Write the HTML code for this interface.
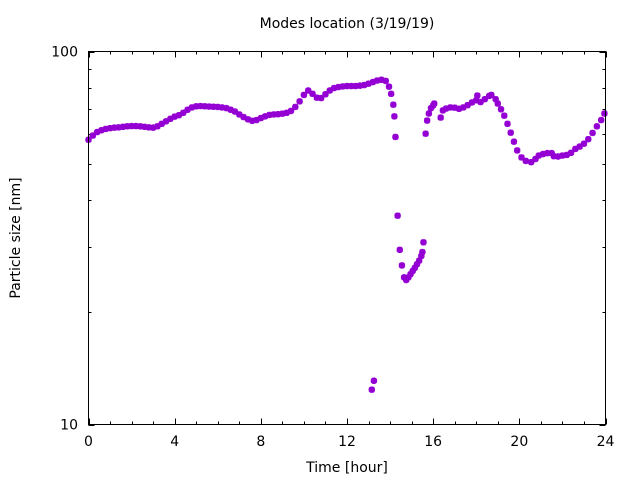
<!DOCTYPE html>
<html><head><meta charset="utf-8"><style>
body{margin:0;background:#fff}
svg text{font-family:"DejaVu Sans","Liberation Sans",sans-serif;font-size:14px;fill:#000}
</style></head><body>
<svg id="chart" width="640" height="480" xmlns="http://www.w3.org/2000/svg">
<text x="347" y="28" text-anchor="middle">Modes location (3/19/19)</text>
<text x="347" y="472" text-anchor="middle">Time [hour]</text>
<text x="20" y="238" text-anchor="middle" transform="rotate(-90 20 238)">Particle size [nm]</text>
<g id="axes"></g>
<g id="marks"></g>
<rect x="88.5" y="51.5" width="517" height="373" fill="none" stroke="#000" stroke-width="1"/>
</svg>
<script>
const hours=[0,0.2,0.4,0.6,0.8,1.0,1.2,1.4,1.6,1.8,2.0,2.2,2.4,2.6,2.8,3.0,3.2,3.4,3.6,3.8,4.0,4.2,4.4,4.6,4.8,5.0,5.2,5.4,5.6,5.8,6.0,6.2,6.4,6.6,6.8,7.0,7.2,7.4,7.6,7.8,8.0,8.2,8.4,8.6,8.8,9.0,9.2,9.4,9.6,9.8,10.0,10.2,10.4,10.6,10.8,11.0,11.2,11.4,11.6,11.8,12.0,12.2,12.4,12.6,12.8,13.0,13.15,13.25,13.2,13.4,13.6,13.8,13.95,14.05,14.15,14.2,14.25,14.35,14.45,14.55,14.65,14.75,14.85,14.95,15.05,15.15,15.25,15.35,15.45,15.5,15.55,15.65,15.72,15.8,15.9,16.0,16.05,16.35,16.45,16.6,16.8,17.0,17.2,17.4,17.6,17.8,18.0,18.05,18.2,18.4,18.6,18.7,18.9,19.0,19.15,19.3,19.45,19.6,19.75,19.9,20.1,20.3,20.55,20.75,20.9,21.1,21.3,21.5,21.6,21.8,22.0,22.2,22.4,22.6,22.8,23.0,23.2,23.4,23.6,23.8,23.95];
const sizes=[58,59.5,60.8,61.5,62,62.3,62.5,62.6,62.8,63,63.1,63.1,63,62.8,62.6,62.5,63,64,65,66,66.9,67.5,68.5,69.8,70.8,71.3,71.4,71.3,71.2,71.1,71,70.8,70.5,69.8,69,67.8,66.7,65.8,65.2,65.5,66.3,67,67.6,67.8,67.9,68.1,68.5,69.3,71,73.5,76.5,78.6,77,75.2,75,76.8,78.6,79.8,80.3,80.6,80.8,80.8,80.8,81,81.3,82,12.4,13.1,82.8,83.6,84,83.4,80.5,77,72,67,59,36.3,29.4,26.7,24.8,24.4,24.8,25.3,25.8,26.3,26.9,27.5,28.3,29,30.8,60.2,65.3,68.2,70.5,71.7,72.5,66.5,69.5,70.3,70.8,70.7,70.2,70.8,71.8,73,74,76.2,73.2,74.5,76,76.5,74.5,72.5,70,67.3,64,60.6,57.3,54.3,52,50.9,50.5,51.5,52.6,53.1,53.4,53.4,52.4,52.3,52.6,52.8,53.5,54.8,55.6,56.6,58.2,60.5,63,65.5,68.2];
const xTicks=[0,4,8,12,16,20,24];
const yTicks=[10,100];
const NS="http://www.w3.org/2000/svg";
const X=h=>88.5+h*(517/24);
const Y=v=>51.5+(2-Math.log10(v))*373;
const axes=document.getElementById('axes');
function ln(x1,y1,x2,y2,name){const l=document.createElementNS(NS,'line');
l.setAttribute('x1',x1);l.setAttribute('y1',y1);l.setAttribute('x2',x2);l.setAttribute('y2',y2);
l.setAttribute('stroke','#000');


axes.appendChild(l);}
function tx(x,y,s,anchor,name){const t=document.createElementNS(NS,'text');
t.setAttribute('x',x);t.setAttribute('y',y);t.setAttribute('text-anchor',anchor);t.textContent=s;


axes.appendChild(t);}
for(let h=0;h<=24;h++){const major=h%4===0;const L=major?6:3;const x=Math.round(X(h))+0.5;
ln(x,424.5,x,424.5-L,'x-tick');ln(x,51.5,x,51.5+L,'x-tick-top');}
xTicks.forEach(h=>tx(X(h),446,String(h),'middle','x-tick-label'));
for(let v=10;v<=100;v+=10){const major=(v===10||v===100);const L=major?6:3;const y=Math.round(Y(v))+0.5;
ln(88.5,y,88.5+L,y,'y-tick');ln(605.5,y,605.5-L,y,'y-tick-right');}
yTicks.forEach(v=>tx(78,Y(v)+5,String(v),'end','y-tick-label'));
const marks=document.getElementById('marks');
hours.forEach((h,i)=>{const x=X(h),y=Y(sizes[i]);const r=3.2;
const p=document.createElementNS(NS,'path');
p.setAttribute('d',`M${x-r} ${y}H${x+r}M${x} ${y-r}V${y+r}M${x-r*0.75} ${y-r*0.75}L${x+r*0.75} ${y+r*0.75}M${x-r*0.75} ${y+r*0.75}L${x+r*0.75} ${y-r*0.75}`);
p.setAttribute('stroke','#9400d3');p.setAttribute('stroke-width','2.2');p.setAttribute('fill','none');


marks.appendChild(p);});
</script>
</body></html>
